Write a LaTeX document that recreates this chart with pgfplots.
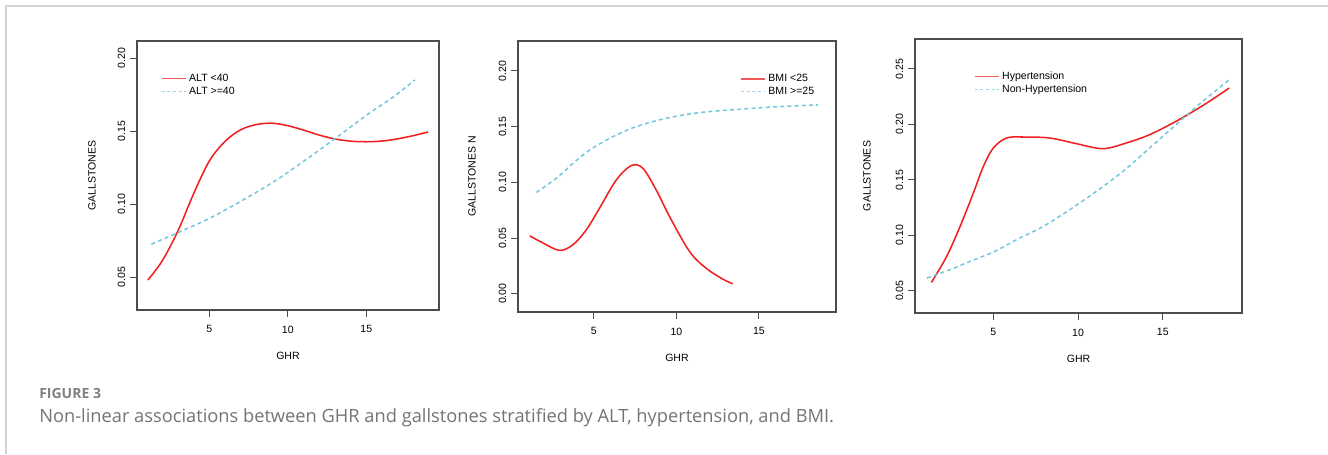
\documentclass[border=0pt]{standalone}
\usepackage{pgfplots}
\pgfplotsset{compat=1.18}
\usepackage{fontspec}
\setmainfont{Liberation Sans}
\newfontfamily\capfont{Open Sans}
\definecolor{rred}{HTML}{F21F1F}
\definecolor{rblue}{HTML}{74C8DC}
\definecolor{lred}{HTML}{F25A5A}
\definecolor{lblue}{HTML}{9AD7E6}
\definecolor{boxgray}{HTML}{4D4D4D}
\definecolor{capgray}{HTML}{747474}

\pgfplotsset{
  rstyle/.style={
    scale only axis,
    anchor=south west,
    axis line style={boxgray, line width=0.9pt},
    tick style={boxgray, line width=0.8pt},
    tick pos=left,
    tick align=outside,
    major tick length=5.25pt,
    xtick={5,10,15},
    font=\fontsize{7.9}{9.4}\selectfont,
    /pgf/number format/assume math mode=true,
    yticklabel={\pgfmathprintnumber[fixed,fixed zerofill,precision=2]{\tick}},
    yticklabel style={rotate=90, anchor=south},
    xticklabel style={yshift=-3pt},
    legend style={draw=none, fill=none, font=\fontsize{7.9}{9.4}\selectfont,
      nodes={inner ysep=0.6pt}, row sep=1.4pt},
    legend cell align=left,
  },
  redline/.style={rred, line width=1.15pt, smooth, tension=0.55},
  blueline/.style={rblue, line width=1.15pt, dash pattern=on 3pt off 2.4pt, smooth, tension=0.55},
}
\pgfplotsset{legend image code/.code={\draw[#1] (0pt,0pt) -- (15pt,0pt); \path (0pt,0pt) -- (18pt,0pt);}}

\begin{document}
\begin{tikzpicture}
\path[use as bounding box] (0pt,0pt) rectangle (996pt,340.5pt);
\draw[gray!35, line width=1.5pt] (4.5pt,0pt) -- (4.5pt,336pt) -- (996pt,336pt);

% Panel 1
\begin{axis}[rstyle, at={(102.75pt,108pt)}, width=226.5pt, height=201.75pt,
  xmin=0.4, xmax=19.63, ymin=0.0274, ymax=0.2119,
  ytick={0.05,0.10,0.15,0.20},
  xlabel={GHR}, ylabel={GALLSTONES},
  xlabel style={at={(axis description cs:0.5,-0.171)}, anchor=center},
  ylabel style={at={(axis description cs:-0.149,0.5)}, anchor=center},
  legend style={at={(axis description cs:0.066,0.891)}, anchor=north west}]
\addlegendimage{draw=lred, line width=1pt, solid}
\addlegendentry{ALT <40}
\addlegendimage{draw=lblue, line width=0.9pt, dash pattern=on 2.2pt off 2pt}
\addlegendentry{ALT >=40}
\addplot[redline, forget plot] coordinates {(1.09,0.048) (2,0.0610) (3,0.0815) (4,0.1070) (5,0.1295) (6,0.1430) (7,0.1510) (8,0.1546) (9,0.1555) (10,0.1538) (11,0.1508) (12,0.1474) (13,0.1447) (14,0.1432) (15,0.1428) (16,0.1433) (17,0.1448) (18,0.1470) (18.94,0.1495)};
\addplot[blueline, forget plot] coordinates {(1.32,0.0726) (2.91,0.080) (5.04,0.0904) (7.17,0.103) (9.30,0.1167) (11.43,0.1326) (13.13,0.1459) (15.04,0.1612) (16.74,0.1737) (18.09,0.1852)};
\end{axis}

% Panel 2
\begin{axis}[rstyle, at={(388.5pt,106.5pt)}, width=238.5pt, height=203.25pt,
  xmin=0.4, xmax=19.67, ymin=-0.0164, ymax=0.2269,
  ytick={0,0.05,0.10,0.15,0.20},
  xlabel={GHR}, ylabel={GALLSTONES N},
  xlabel style={at={(axis description cs:0.5,-0.170)}, anchor=center},
  ylabel style={at={(axis description cs:-0.145,0.5)}, anchor=center},
  legend style={at={(axis description cs:0.953,0.891)}, anchor=north east}]
\addlegendimage{draw=lred, line width=1pt, solid}
\addlegendentry{BMI <25}
\addlegendimage{draw=lblue, line width=0.9pt, dash pattern=on 2.2pt off 2pt}
\addlegendentry{BMI >=25}
\addplot[redline, forget plot] coordinates {(1.11,0.052) (1.92,0.0455) (2.92,0.0389) (3.73,0.0440) (4.54,0.0574) (5.34,0.0768) (6.35,0.1020) (7.26,0.1150) (7.96,0.1127) (8.77,0.0933) (9.58,0.0694) (10.79,0.0380) (11.79,0.0230) (12.80,0.0132) (13.41,0.0090)};
\addplot[blueline, forget plot] coordinates {(1.51,0.0909) (2.72,0.1037) (3.73,0.117) (4.74,0.129) (6.15,0.141) (7.56,0.150) (9.37,0.1575) (11.39,0.1626) (13.81,0.1656) (16.23,0.168) (18.59,0.1695)};
\end{axis}

% Panel 3
\begin{axis}[rstyle, at={(686.25pt,105.75pt)}, width=245.25pt, height=205.5pt,
  xmin=0.38, xmax=19.67, ymin=0.0299, ymax=0.277,
  ytick={0.05,0.10,0.15,0.20,0.25},
  xlabel={GHR}, ylabel={GALLSTONES},
  xlabel style={at={(axis description cs:0.5,-0.168)}, anchor=center},
  ylabel style={at={(axis description cs:-0.147,0.5)}, anchor=center},
  legend style={at={(axis description cs:0.168,0.895)}, anchor=north west}]
\addlegendimage{draw=lred, line width=1pt, solid}
\addlegendentry{Hypertension}
\addlegendimage{draw=lblue, line width=0.9pt, dash pattern=on 2.2pt off 2pt}
\addlegendentry{Non-Hypertension}
\addplot[redline, forget plot] coordinates {(1.35,0.0575) (2.25,0.081) (3.04,0.108) (3.82,0.138) (4.41,0.162) (5.0,0.1787) (5.78,0.1877) (6.76,0.1886) (8.33,0.1877) (9.90,0.1826) (11.47,0.1781) (12.84,0.1832) (14.22,0.1907) (15.78,0.2028) (17.35,0.2169) (18.92,0.2328)};
\addplot[blueline, forget plot] coordinates {(1.08,0.0614) (2.45,0.069) (3.63,0.0765) (5.0,0.0849) (6.37,0.096) (7.94,0.108) (9.51,0.1231) (11.08,0.1396) (12.65,0.1577) (14.22,0.1787) (15.78,0.1998) (17.35,0.2208) (18.92,0.2403)};
\end{axis}

\node[anchor=west, inner sep=0pt, font=\capfont\bfseries\fontsize{10.5}{12}\selectfont, text=gray] at (29.25pt,45.75pt) {FIGURE 3};
\node[anchor=west, inner sep=0pt, font=\capfont\fontsize{13.7}{16}\selectfont, text=capgray] at (29.25pt,27pt) {Non-linear associations between GHR and gallstones stratified by ALT, hypertension, and BMI.};
\end{tikzpicture}
\end{document}
